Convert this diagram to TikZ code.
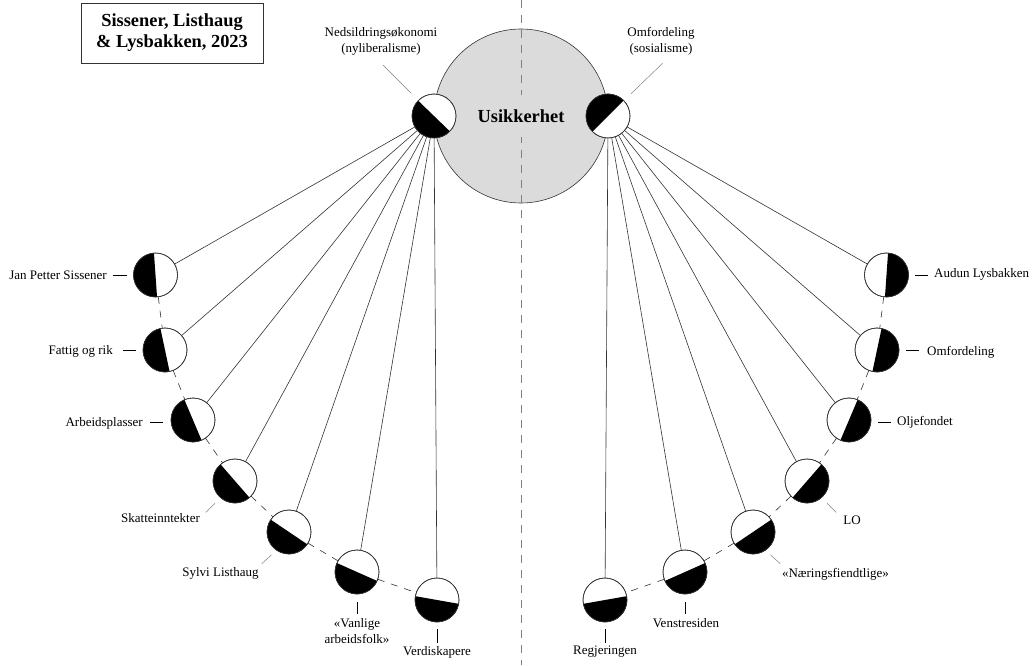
\documentclass[tikz,border=0pt]{standalone}
\usepackage{fontspec}
\setmainfont{Liberation Serif}

\definecolor{uncfill}{gray}{0.86}
\definecolor{linegray}{gray}{0.2}
\definecolor{axisgray}{gray}{0.5}

\newcommand{\discr}{22}
% name, x, y, direction of the black half
\newcommand{\halfdisc}[4]{%
  \node[disc] (#1) at (#2,#3) {};
  \fill (#1.center) ++(#4-90:\discr) arc[start angle=#4-90, delta angle=180, radius=\discr] -- cycle;
  \draw[discrim] (#1.center) circle[radius=\discr];
}

\tikzset{
  disc/.style={circle, draw=linegray, fill=white, minimum size=44pt,
    inner sep=0pt, outer sep=0pt, line width=0.6pt},
  discrim/.style={draw=linegray, line width=0.6pt},
  uncert/.style={circle, draw=linegray, fill=uncfill, minimum size=174pt,
    inner sep=0pt, line width=0.6pt},
  centre/.style={fill=uncfill, inner sep=2pt, minimum height=42pt,
    font=\fontsize{18.4}{21}\selectfont\bfseries},
  titlebox/.style={draw=linegray, line width=0.7pt, minimum width=182pt,
    minimum height=60pt, align=center, font=\fontsize{18.4}{21}\selectfont\bfseries},
  lbl/.style={inner sep=0pt, align=center, font=\fontsize{13}{16}\selectfont},
  axis/.style={draw=axisgray, line width=0.9pt, dash pattern=on 8pt off 7pt},
  arcdash/.style={draw=linegray, line width=0.6pt, dash pattern=on 7pt off 7pt},
  conn/.style={draw=linegray, line width=0.6pt},
  leader/.style={draw=axisgray, line width=0.5pt},
  tick/.style={draw=black, line width=0.8pt}
}

\begin{document}
\begin{tikzpicture}[x=1pt, y=1pt]
  \useasboundingbox (0,0) rectangle (1034,665);

  \node[titlebox] (title) at (172,632) {Sissener, Listhaug\\\& Lysbakken, 2023};

  \node[uncert] (unc) at (521,549) {};
  \coordinate (axtop) at (521,665);
  \coordinate (axbot) at (521,0);
  \draw[axis] (axtop) -- (axbot);
  \node[centre] (usik) at (unc) {Usikkerhet};

  % the two poles
  \halfdisc{nyl}{434}{549}{226}
  \halfdisc{sos}{608}{549}{135}

  % left side
  \halfdisc{sis}{155.5}{390}{184}
  \halfdisc{fat}{165}{315}{192}
  \halfdisc{arb}{193}{245}{203}
  \halfdisc{ska}{235}{184}{221}
  \halfdisc{syl}{289}{133}{236}
  \halfdisc{van}{357}{93}{246}
  \halfdisc{ver}{437}{65}{260}

  % right side
  \halfdisc{aud}{886.5}{390}{-4}
  \halfdisc{omf}{877}{315}{-12}
  \halfdisc{olj}{849}{245}{-23}
  \halfdisc{lo}{807}{184}{-41}
  \halfdisc{nae}{753}{133}{-56}
  \halfdisc{ven}{685}{93}{-66}
  \halfdisc{reg}{605}{65}{-80}

  \begin{scope}[arcdash]
    \draw (sis) to (fat);
    \draw (fat) to (arb);
    \draw (arb) to (ska);
    \draw (ska) to (syl);
    \draw (syl) to (van);
    \draw (van) to (ver);
    \draw (aud) to (omf);
    \draw (omf) to (olj);
    \draw (olj) to (lo);
    \draw (lo) to (nae);
    \draw (nae) to (ven);
    \draw (ven) to (reg);
  \end{scope}

  \begin{scope}[conn]
    \draw (nyl) to (sis);
    \draw (nyl) to (fat);
    \draw (nyl) to (arb);
    \draw (nyl) to (ska);
    \draw (nyl) to (syl);
    \draw (nyl) to (van);
    \draw (nyl) to (ver);
    \draw (sos) to (aud);
    \draw (sos) to (omf);
    \draw (sos) to (olj);
    \draw (sos) to (lo);
    \draw (sos) to (nae);
    \draw (sos) to (ven);
    \draw (sos) to (reg);
  \end{scope}

  % leaders
  \draw[leader] (nyl.135) ++(135:10) -- ++(135:40);
  \draw[leader] (sos.44) ++(44:10) -- ++(44:44);
  \draw[leader] (ska.229) ++(225:8) -- ++(225:13);
  \draw[leader] (syl.236) ++(222:7) -- ++(222:13);
  \draw[leader] (nae.-56) ++(-42:7) -- ++(-42:13);
  \draw[leader] (lo.-49) ++(-45:8) -- ++(-45:13);

  % ticks
  \draw[tick] (sis.west) ++(-6.5,0) -- ++(-14,0);
  \draw[tick] (fat.west) ++(-7,0) -- ++(-13,0);
  \draw[tick] (arb.west) ++(-8,-2) -- ++(-13,0);
  \draw[tick] (aud.east) ++(6.5,0) -- ++(13,0);
  \draw[tick] (omf.east) ++(7,0) -- ++(13,0);
  \draw[tick] (olj.east) ++(7,-2) -- ++(13,0);
  \draw[tick] (van.south) ++(0,-8) -- ++(0,-12);
  \draw[tick] (ver.south) ++(0,-7) -- ++(0,-14);
  \draw[tick] (ven.south) ++(0,-8) -- ++(0,-12);
  \draw[tick] (reg.south) ++(0,-7) -- ++(0,-14);

  % labels
  \node[lbl] (lnyl) at (381,624) {Nedsildringsøkonomi\\(nyliberalisme)};
  \node[lbl] (lsos) at (661,624) {Omfordeling\\(sosialisme)};
  \node[lbl, anchor=east] (lsis) at (107,390) {Jan Petter Sissener};
  \node[lbl, anchor=east] (lfat) at (113,314) {Fattig og rik};
  \node[lbl, anchor=east] (larb) at (143,242) {Arbeidsplasser};
  \node[lbl] (lska) at (160.5,147) {Skatteinntekter};
  \node[lbl] (lsyl) at (220.5,92) {Sylvi Listhaug};
  \node[lbl] (lvan) at (357,34) {«Vanlige\\arbeidsfolk»};
  \node[lbl] (lver) at (437,13) {Verdiskapere};
  \node[lbl, anchor=west] (laud) at (934,391) {Audun Lysbakken};
  \node[lbl, anchor=west] (lomf) at (927,313) {Omfordeling};
  \node[lbl, anchor=west] (lolj) at (897,243) {Oljefondet};
  \node[lbl] (llo) at (852,145) {LO};
  \node[lbl] (lnae) at (835.5,91) {«Næringsfiendtlige»};
  \node[lbl] (lven) at (686,42) {Venstresiden};
  \node[lbl] (lreg) at (605,13) {Regjeringen};
\end{tikzpicture}
\end{document}
